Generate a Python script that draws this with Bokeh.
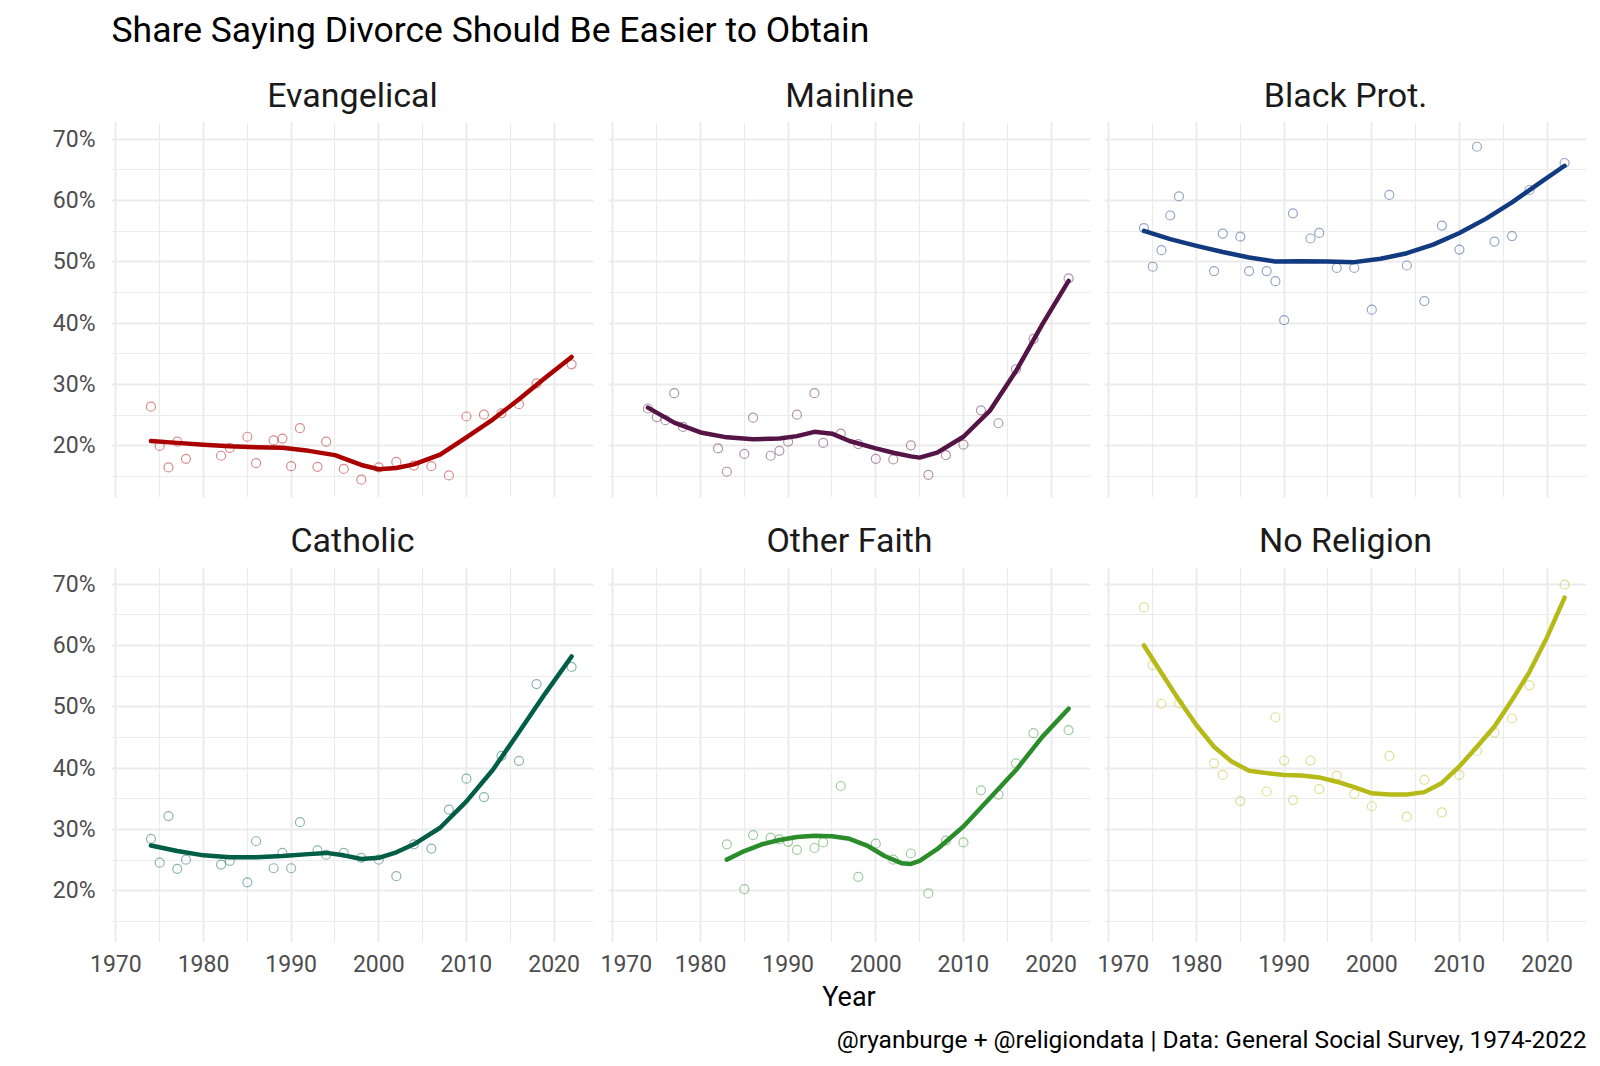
from bokeh.plotting import figure
from bokeh.layouts import column, row
from bokeh.models import Range1d, FixedTicker, PrintfTickFormatter, Label
from bokeh.embed import file_html
from bokeh.resources import INLINE

# ---------------- data ----------------
YEARS = [1974, 1975, 1976, 1977, 1978, 1982, 1983, 1985, 1986, 1988, 1989, 1990, 1991,
         1993, 1994, 1996, 1998, 2000, 2002, 2004, 2006, 2008, 2010, 2012, 2014, 2016,
         2018, 2022]

evangelical = [26.4, 20.0, 16.5, 20.7, 17.9, 18.4, 19.7, 21.5, 17.2, 20.9, 21.2, 16.7, 22.9,
               16.6, 20.7, 16.25, 14.5, 16.5, 17.4, 16.8, 16.7, 15.2, 24.8, 25.1, 25.3, 26.8,
               30.2, 33.3]
mainline = [26.1, 24.7, 24.2, 28.6, 23.1, 19.6, 15.8, 18.7, 24.6, 18.4, 19.2, 20.7, 25.1,
            28.6, 20.5, 22.0, 20.3, 17.9, 17.8, 20.1, 15.3, 18.5, 20.2, 25.8, 23.7, 32.5,
            37.45, 47.3]
black_prot = [55.5, 49.2, 51.9, 57.55, 60.65, 48.5, 54.6, 54.1, 48.5, 48.5, 46.85, 40.5, 57.9,
              53.8, 54.7, 49.0, 49.0, 42.2, 60.9, 49.4, 43.6, 55.9, 52.0, 68.75, 53.3, 54.2,
              61.7, 66.1]
catholic = [28.5, 24.6, 32.2, 23.6, 25.1, 24.3, 24.9, 21.4, 28.1, 23.7, 26.2, 23.7, 31.2,
            26.6, 25.9, 26.2, 25.4, 25.1, 22.4, 27.6, 26.9, 33.25, 38.3, 35.3, 42.0, 41.2,
            53.7, 56.5]

OTHER_YEARS = [1983, 1985, 1986, 1988, 1989, 1990, 1991, 1993, 1994, 1996, 1998, 2000, 2002,
               2004, 2006, 2008, 2010, 2012, 2014, 2016, 2018, 2022]
other_faith = [27.6, 20.3, 29.1, 28.7, 28.4, 28.0, 26.7, 27.0, 27.9, 37.1, 22.3, 27.7, 25.1,
               26.1, 19.6, 28.2, 27.9, 36.4, 35.7, 40.8, 45.7, 46.2]

NONE_YEARS = [1974, 1975, 1976, 1978, 1982, 1983, 1985, 1988, 1989, 1990, 1991, 1993, 1994,
              1996, 1998, 2000, 2002, 2004, 2006, 2008, 2010, 2012, 2014, 2016, 2018, 2022]
no_religion = [66.2, 56.8, 50.5, 50.6, 40.8, 38.9, 34.65, 36.2, 48.3, 41.25, 34.8, 41.25, 36.6,
               38.8, 35.8, 33.8, 42.0, 32.1, 38.1, 32.8, 38.9, 42.8, 45.8, 48.1, 53.5, 69.9]

# smoothed (loess) curves
ev_sm_years = [1974, 1977, 1980, 1983, 1986, 1989, 1992, 1995, 1998, 2000, 2002, 2004, 2007,
               2010, 2013, 2016, 2019, 2022]
ev_sm = [20.8, 20.5, 20.2, 19.95, 19.8, 19.7, 19.2, 18.5, 16.9, 16.2, 16.4, 17.0, 18.6,
         21.4, 24.3, 27.6, 31.1, 34.5]

ml_sm_years = [1974, 1977, 1980, 1983, 1986, 1989, 1991, 1993, 1995, 1997, 2000, 2002, 2004,
               2005, 2007, 2010, 2013, 2016, 2019, 2022]
ml_sm = [26.25, 23.8, 22.2, 21.4, 21.1, 21.2, 21.6, 22.3, 22.0, 20.8, 19.6, 18.9, 18.3,
         18.1, 18.9, 21.5, 25.7, 32.2, 39.8, 46.9]

bp_sm_years = [1974, 1977, 1980, 1983, 1986, 1989, 1992, 1995, 1998, 2001, 2004, 2007, 2010,
               2013, 2016, 2019, 2022]
bp_sm = [55.05, 53.7, 52.6, 51.6, 50.7, 50.05, 50.1, 50.05, 49.95, 50.5, 51.4, 52.8, 54.7,
         57.0, 59.7, 62.7, 65.65]

ca_sm_years = [1974, 1977, 1980, 1983, 1986, 1989, 1992, 1994, 1996, 1998, 2000, 2002, 2004,
               2007, 2010, 2013, 2016, 2019, 2022]
ca_sm = [27.4, 26.5, 25.8, 25.5, 25.5, 25.7, 26.0, 26.2, 25.8, 25.2, 25.4, 26.3, 27.6,
         30.3, 34.6, 39.7, 45.9, 52.2, 58.2]

of_sm_years = [1983, 1985, 1987, 1989, 1991, 1993, 1995, 1997, 1999, 2001, 2003, 2004, 2005,
               2007, 2010, 2013, 2016, 2019, 2022]
of_sm = [25.1, 26.5, 27.6, 28.3, 28.8, 29.0, 28.9, 28.5, 27.4, 25.7, 24.5, 24.4, 24.9,
         26.8, 30.5, 35.1, 39.7, 45.1, 49.7]

nr_sm_years = [1974, 1976, 1978, 1980, 1982, 1984, 1986, 1988, 1990, 1992, 1994, 1996, 1998,
               2000, 2002, 2004, 2006, 2008, 2010, 2012, 2014, 2016, 2018, 2020, 2022]
nr_sm = [60.0, 55.5, 51.1, 47.0, 43.5, 41.1, 39.6, 39.2, 38.9, 38.8, 38.5, 37.8, 36.9,
         35.9, 35.7, 35.7, 36.1, 37.6, 40.3, 43.5, 46.8, 51.1, 55.7, 61.35, 67.8]

PANELS = ["Evangelical", "Mainline", "Black Prot.", "Catholic", "Other Faith", "No Religion"]
COLORS = ["#AA0000", "#551446", "#123A80", "#005E46", "#2B8C2B", "#B5BA18"]

X_TICKS = [1970, 1980, 1990, 2000, 2010, 2020]
X_MINOR = [1975, 1985, 1995, 2005, 2015]
Y_TICKS = [20, 30, 40, 50, 60, 70]
Y_MINOR = [15, 25, 35, 45, 55, 65]

TITLE = "Share Saying Divorce Should Be Easier to Obtain"
XLABEL = "Year"
CAPTION = "@ryanburge + @religiondata | Data: General Social Survey, 1974-2022"

FONT = "Roboto"
GRID = "#EBEBEB"

series = [
    (YEARS, evangelical, ev_sm_years, ev_sm),
    (YEARS, mainline, ml_sm_years, ml_sm),
    (YEARS, black_prot, bp_sm_years, bp_sm),
    (YEARS, catholic, ca_sm_years, ca_sm),
    (OTHER_YEARS, other_faith, of_sm_years, of_sm),
    (NONE_YEARS, no_religion, nr_sm_years, nr_sm),
]

FRAME_W, FRAME_H = 482, 375
BORDERS = [(111, 7), (8, 7), (7, 6)]
TOP_B = 64


def make_panel(i):
    r, c = divmod(i, 3)
    lb, rb = BORDERS[c]
    bottom = 40 if r == 1 else 6
    p = figure(width=lb + FRAME_W + rb, height=TOP_B + FRAME_H + bottom,
               x_range=Range1d(1969.5, 2024.5), y_range=Range1d(11.6, 72.7),
               toolbar_location=None, output_backend="svg",
               min_border_left=lb, min_border_right=rb,
               min_border_top=TOP_B, min_border_bottom=bottom,
               title=PANELS[i])
    p.outline_line_color = None
    p.background_fill_color = "white"
    p.border_fill_color = "white"
    p.title.align = "center"
    p.title.text_font = FONT
    p.title.text_font_style = "normal"
    p.title.text_font_size = "34px"
    p.title.text_color = "#1A1A1A"
    p.title.standoff = 16

    xt = FixedTicker(ticks=X_TICKS, minor_ticks=X_MINOR)
    yt = FixedTicker(ticks=Y_TICKS, minor_ticks=Y_MINOR)
    p.xaxis.ticker = xt
    p.yaxis.ticker = yt
    p.xgrid.ticker = xt
    p.ygrid.ticker = yt
    for g in (p.xgrid, p.ygrid):
        g.grid_line_color = GRID
        g.grid_line_width = 2
        g.minor_grid_line_color = GRID
        g.minor_grid_line_width = 1.2

    for ax in (p.xaxis, p.yaxis):
        ax.axis_line_color = None
        ax.major_tick_line_color = None
        ax.minor_tick_line_color = None
        ax.major_tick_in = 0
        ax.major_tick_out = 0
        ax.major_label_text_font = FONT
        ax.major_label_text_font_size = "23px"
        ax.major_label_text_color = "#4D4D4D"
    p.yaxis.formatter = PrintfTickFormatter(format="%d%%")
    p.yaxis.major_label_standoff = 12
    p.xaxis.major_label_standoff = 8
    if r == 0:
        p.xaxis.visible = False
    if c != 0:
        p.yaxis.visible = False

    yrs, vals, syrs, svals = series[i]
    col = COLORS[i]
    p.scatter(yrs, vals, marker="circle", size=9, fill_color=None,
              line_color=col, line_alpha=0.45, line_width=1.2)
    p.line(syrs, svals, line_color=col, line_width=4.5, line_cap="round", line_join="round")
    return p


panels = [make_panel(i) for i in range(6)]

TOTAL_W = sum(lb + FRAME_W + rb for lb, rb in BORDERS)
PANEL_L = BORDERS[0][0]
PANEL_R = TOTAL_W - BORDERS[2][1]
HEADER_H = 58
FOOTER_H = 76

header = figure(width=TOTAL_W, height=HEADER_H, x_range=Range1d(0, TOTAL_W),
                y_range=Range1d(0, HEADER_H), x_axis_type=None, y_axis_type=None,
                toolbar_location=None, output_backend="svg", min_border=0)
header.outline_line_color = None
header.add_layout(Label(x=PANEL_L, y=29, text=TITLE, text_font=FONT, text_font_size="35.5px",
                        text_color="#000000", text_align="left", text_baseline="alphabetic"))

footer = figure(width=TOTAL_W, height=FOOTER_H, x_range=Range1d(0, TOTAL_W),
                y_range=Range1d(0, FOOTER_H), x_axis_type=None, y_axis_type=None,
                toolbar_location=None, output_backend="svg", min_border=0)
footer.outline_line_color = None
footer.add_layout(Label(x=(PANEL_L + PANEL_R) / 2, y=62, text=XLABEL, text_font=FONT,
                        text_font_size="27px", text_color="#000000", text_align="center",
                        text_baseline="alphabetic"))
footer.add_layout(Label(x=PANEL_R, y=19, text=CAPTION, text_font=FONT, text_font_size="24.5px",
                        text_color="#000000", text_align="right", text_baseline="alphabetic"))

layout = column(header, row(*panels[:3]), row(*panels[3:]), footer)

open("out.html", "w").write(file_html(layout, INLINE, title=TITLE))
